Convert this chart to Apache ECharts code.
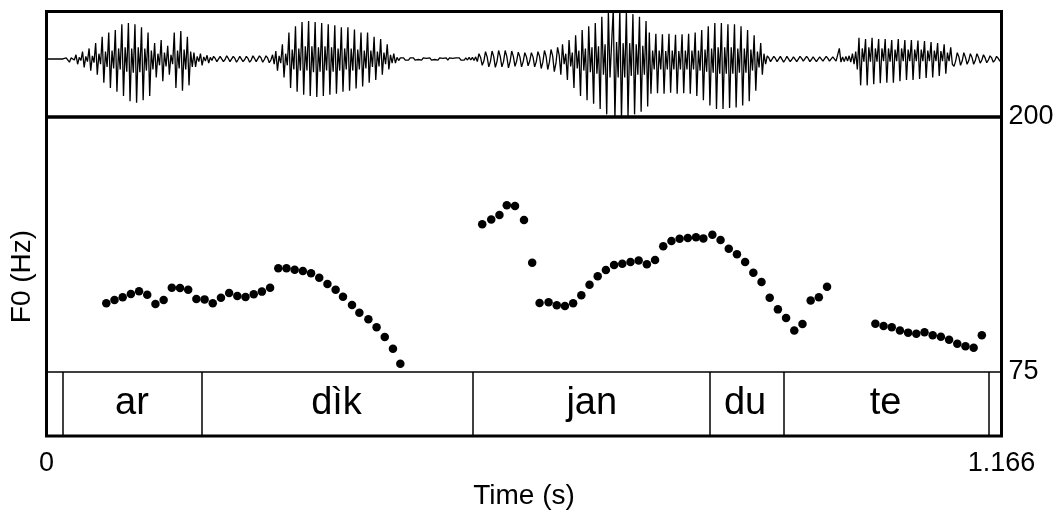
<!DOCTYPE html>
<html>
<head>
<meta charset="utf-8">
<script src="https://cdn.jsdelivr.net/npm/echarts@6/dist/echarts.min.js"></script>
<style>
  html, body { margin: 0; padding: 0; background: #fff; }
  #chart { width: 1064px; height: 516px; }
</style>
</head>
<body>
<div id="chart"></div>
<script>
// Time axis (s) and pitch range (Hz)
const timeRange = [0, 1.166];
const timeTickLabels = ['0', '1.166'];
const hzRange = [75, 200];
const hzTickLabels = [75, 200];

// Oscillogram, one value every waveStep seconds (arbitrary amplitude units)
const waveStep = 0.002;
const waveSamples = [
  0, 0, 0, 0, 0, 0, 0, 0, 0, 0, 0, 0,
  0.02, 0.05, -0.06, 0.02, 0.03, -0.02,
  0.08, -0.1, 0.03, -0.03, 0.14, -0.16, 0.05, -0.05, 0.2, -0.22, 0.06, -0.07, 0.3, -0.3, 0.1, -0.1,
  0.42, -0.45, 0.14, -0.15, 0.5, -0.55, 0.16, -0.18, 0.55, -0.62, 0.2, -0.2, 0.66, -0.7, 0.22, -0.24,
  0.68, -0.8, 0.2, -0.26, 0.66, -0.83, 0.22, -0.25, 0.6, -0.78, 0.2, -0.22, 0.5, -0.7, 0.16, -0.2,
  0.3, -0.35, 0.1, -0.12, 0.36, -0.42, 0.12, -0.14, 0.25, -0.3, 0.08, -0.1,
  0.5, -0.55, 0.16, -0.18, 0.53, -0.6, 0.18, -0.2, 0.42, -0.5, 0.14, -0.15,
  0.12, -0.15, 0.05, -0.05, 0.1, -0.12, 0.04, -0.04, 0.07, -0.08, 0.03, -0.03,
  0.05, 0.01, -0.05, -0.02, 0.05, 0.02, -0.05, -0.01, 0.06, 0.01, -0.05, -0.02, 0.05, 0.01, -0.06, -0.01,
  0.05, 0.02, -0.05, -0.01, 0.05, 0.01, -0.06, -0.02, 0.06, 0.01, -0.05, -0.02, 0.06, 0.02, -0.06, -0.01,
  0.06, 0.02, -0.07, -0.02, 0.08, -0.1,
  0.15, -0.22, 0.06, -0.08, 0.28, -0.35, 0.1, -0.12,
  0.5, -0.55, 0.18, -0.2, 0.62, -0.62, 0.2, -0.22, 0.7, -0.68, 0.24, -0.22, 0.72, -0.7, 0.24, -0.25,
  0.7, -0.72, 0.22, -0.24, 0.68, -0.7, 0.24, -0.22, 0.66, -0.68, 0.22, -0.24, 0.64, -0.66, 0.2, -0.22,
  0.6, -0.62, 0.2, -0.2, 0.6, -0.6, 0.2, -0.22, 0.56, -0.56, 0.18, -0.2, 0.5, -0.52, 0.16, -0.18,
  0.5, -0.45, 0.16, -0.15, 0.42, -0.4, 0.14, -0.14, 0.38, -0.3, 0.12, -0.1, 0.28, -0.2, 0.08, -0.08,
  0.1, -0.08, 0.03, -0.03,
  0.02, -0.01, 0.02, -0.02, 0.01, -0.02, 0.02, -0.01, 0.02, -0.02, 0.01, -0.01, 0.02, -0.02, 0.02, -0.01,
  0.01, -0.02, 0.02, -0.02, 0.01, -0.01, 0.02, -0.02, 0.02, -0.01, 0.01, -0.02, 0.02, -0.02, 0.02, -0.01,
  0.01, -0.02, 0.02, -0.01, 0.02, -0.02, 0.01, -0.02, 0.02, -0.02, 0.03, -0.02, 0.03, -0.03, 0.04, -0.05,
  0.1, 0.03, -0.12, -0.04, 0.14, 0.04, -0.15, -0.05, 0.15, 0.05, -0.16, -0.05, 0.16, 0.05, -0.15, -0.05,
  0.16, 0.05, -0.17, -0.05, 0.15, 0.05, -0.14, -0.04, 0.13, 0.04, -0.15, -0.05, 0.12, 0.04, -0.13, -0.04,
  0.12, 0.04, -0.15, -0.05, 0.14, 0.05, -0.18, -0.06, 0.16, 0.05, -0.2, -0.06, 0.18, 0.06, -0.24, -0.08,
  0.22, 0.07,
  -0.3, 0.28, -0.1, 0.1, -0.4, 0.36, -0.14, 0.12, -0.55, 0.45, -0.18, 0.16,
  -0.7, 0.55, -0.22, 0.2, -0.78, 0.62, -0.25, 0.22, -0.85, 0.68, -0.28, 0.24, -0.95, 0.8, -0.3, 0.28,
  -1.05, 0.9,
  -0.35, 0.3, 0.95, -1.15, 0.32, -0.35, 0.95, -1.15, 0.3, -0.35, 0.9, -1.1, 0.3, -0.32, 0.85, -1.05,
  0.28, -0.3, 0.8, -1.0, 0.25, -0.3, 0.72, -0.9,
  0.5, -0.66, 0.16, -0.2, 0.48, -0.65, 0.16, -0.2, 0.47, -0.66, 0.15, -0.2, 0.48, -0.64, 0.16, -0.2,
  0.46, -0.66, 0.15, -0.2, 0.47, -0.65, 0.16, -0.2, 0.48, -0.66, 0.16, -0.2, 0.5, -0.7, 0.16, -0.22,
  0.55, -0.78, 0.18, -0.24, 0.62, -0.88, 0.2, -0.26, 0.68, -0.95, 0.22, -0.28, 0.68, -0.95, 0.22, -0.28,
  0.66, -0.93, 0.22, -0.28, 0.66, -0.92, 0.2, -0.26, 0.62, -0.88, 0.2, -0.26, 0.55, -0.8, 0.18, -0.22,
  0.45, -0.6, 0.14, -0.16, 0.3, -0.3, 0.1, -0.1,
  0.06, 0.02, -0.05, -0.02, 0.05, 0.01, -0.05, -0.02, 0.05, 0.02, -0.06, -0.01, 0.05, 0.02, -0.05, -0.01,
  0.04, 0.02, -0.05, -0.02, 0.05, 0.01, -0.04, -0.02, 0.05, 0.01, -0.05, -0.01, 0.04, 0.02, -0.05, -0.02,
  0.04, 0.01, -0.04, -0.02, 0.05, 0.01, -0.04, -0.01, 0.04, 0.01, -0.04, -0.01,
  0.2, -0.06, 0.04, -0.05, 0.05, -0.04, 0.06, -0.06, 0.1, -0.1, 0.14, -0.2,
  0.4, -0.5, 0.2, -0.05, 0.38, -0.5, 0.22, -0.05, 0.4, -0.48, 0.2, -0.05, 0.38, -0.46, 0.2, -0.04,
  0.38, -0.45, 0.2, -0.05, 0.36, -0.45, 0.18, -0.04, 0.38, -0.42, 0.2, -0.04, 0.36, -0.4, 0.18, -0.04,
  0.36, -0.4, 0.18, -0.04, 0.35, -0.38, 0.18, -0.04, 0.34, -0.36, 0.16, -0.04, 0.32, -0.35, 0.16, -0.04,
  0.3, -0.32, 0.15, -0.04, 0.28, -0.28, 0.12, -0.04, 0.22, -0.1,
  -0.14, -0.04, 0.12, 0.04, -0.12, -0.04, 0.12, 0.03, -0.1, -0.03, 0.1, 0.03, -0.1, -0.03, 0.1, 0.03,
  -0.08, -0.02, 0.08, 0.02, -0.07, -0.02, 0.06, 0.02, -0.06, -0.02, 0.05, 0.01, -0.04, -0.01
];

// Pitch track: frame times (s) and F0 (Hz)
const f0Times = [
  0.073, 0.083, 0.093, 0.103, 0.113, 0.123, 0.133, 0.143, 0.153, 0.163, 0.173, 0.183, 0.193,
  0.203, 0.213, 0.223, 0.233, 0.243, 0.253, 0.263, 0.273, 0.283, 0.293, 0.303, 0.313, 0.323,
  0.333, 0.343, 0.353, 0.362, 0.373, 0.382, 0.393, 0.403, 0.413, 0.423, 0.432,
  0.532, 0.543, 0.553, 0.562, 0.572, 0.583, 0.593, 0.602, 0.613, 0.623, 0.633, 0.643, 0.653,
  0.663, 0.673, 0.683, 0.693, 0.703, 0.713, 0.723, 0.733, 0.743, 0.753, 0.763, 0.773, 0.783,
  0.793, 0.802, 0.813, 0.823, 0.833, 0.843, 0.853, 0.863, 0.873, 0.883, 0.893, 0.903, 0.913,
  0.923, 0.933, 0.943, 0.953,
  1.012, 1.022, 1.032, 1.042, 1.052, 1.062, 1.072, 1.082, 1.092, 1.102, 1.112, 1.122, 1.132, 1.142
];
const f0Hz = [
  108.7, 110.3, 111.6, 113.2, 114.6, 112.9, 108.3, 110.3, 116.3, 116.2, 115.3, 110.8, 110.6,
  108.7, 111.4, 113.7, 112.3, 111.8, 113.1, 114.4, 116.3, 125.8, 125.8, 125.1, 124.5, 123.4,
  121.2, 118.1, 115.3, 111.9, 107.8, 104.1, 100.8, 96.9, 92.2, 86.4, 79.1,
  147.4, 149.7, 152.0, 156.7, 156.4, 149.5, 128.6, 108.8, 109.2, 107.7, 107.4, 108.7, 112.6,
  117.8, 121.9, 125.0, 127.5, 128.1, 128.9, 129.6, 127.8, 129.9, 136.6, 139.2, 140.3, 140.7,
  141.0, 140.5, 142.3, 139.7, 135.4, 132.7, 128.9, 123.7, 119.1, 111.4, 105.7, 101.5, 95.4,
  98.5, 110.1, 111.6, 116.8,
  98.7, 97.5, 96.9, 95.4, 94.3, 93.8, 94.5, 93.0, 92.3, 90.8, 88.9, 87.6, 86.9, 93.0
];

// Word tier: interval boundaries (s) and labels
const tierBounds = [0.0226, 0.1862, 0.5220, 0.8095, 0.8962, 1.1526];
const tierLabels = ['ar', 'dìk', 'jan', 'du', 'te'];

const FONT = '"Liberation Sans", Arial, Helvetica, sans-serif';
const INK = '#000';

const waveData = waveSamples.map((v, i) => [i * waveStep, v]);
const f0Data = f0Times.map((t, i) => [t, f0Hz[i]]);
const tierData = tierLabels.map((name, i) => ({
  name: name,
  value: [(tierBounds[i] + tierBounds[i + 1]) / 2, 0.5]
}));

const L = 46.5, W = 955;
const hiddenX = (gi) => ({
  type: 'value', gridIndex: gi, min: timeRange[0], max: timeRange[1],
  show: false
});

const chart = echarts.init(document.getElementById('chart'), null, { renderer: 'canvas' });
chart.setOption({
  animation: false,
  backgroundColor: '#fff',
  textStyle: { fontFamily: FONT, color: INK },
  grid: [
    // oscillogram
    { left: L, top: 11.5, width: W, height: 105.5, show: true, borderColor: INK, borderWidth: 3,
      backgroundColor: 'transparent', outerBoundsMode: 'none' },
    // pitch panel
    { left: L, top: 117, width: W, height: 255, show: false, outerBoundsMode: 'none' },
    // word tier
    { left: L, top: 372, width: W, height: 64, show: true, borderColor: INK, borderWidth: 1.5,
      backgroundColor: 'transparent', outerBoundsMode: 'none' },
    // outer frame around pitch + tier
    { left: L, top: 117, width: W, height: 319, show: true, borderColor: INK, borderWidth: 3,
      backgroundColor: 'transparent', outerBoundsMode: 'none' }
  ],
  xAxis: [
    hiddenX(0),
    hiddenX(1),
    hiddenX(2),
    {
      type: 'value', gridIndex: 3, min: timeRange[0], max: timeRange[1], interval: timeRange[1],
      axisLine: { show: false }, axisTick: { show: false }, splitLine: { show: false },
      axisLabel: {
        show: true, margin: 14, fontSize: 27, color: INK, fontFamily: FONT,
        showMinLabel: true, showMaxLabel: true,
        formatter: (v) => (v === timeRange[0] ? timeTickLabels[0] : timeTickLabels[1])
      },
      name: 'Time (s)', nameLocation: 'middle', nameGap: 44,
      nameTextStyle: { fontSize: 28, color: INK, fontFamily: FONT }
    }
  ],
  yAxis: [
    { type: 'value', gridIndex: 0, min: -1.1, max: 0.9, show: false },
    {
      type: 'value', gridIndex: 1, position: 'right', min: hzRange[0], max: hzRange[1], interval: 25,
      axisLine: { show: false }, axisTick: { show: false }, splitLine: { show: false },
      axisLabel: {
        show: true, margin: 7, fontSize: 27, color: INK, fontFamily: FONT,
        showMinLabel: true, showMaxLabel: true,
        formatter: (v) => (hzTickLabels.indexOf(v) >= 0 ? String(v) : '')
      }
    },
    { type: 'value', gridIndex: 2, min: 0, max: 1, show: false },
    {
      type: 'value', gridIndex: 3, min: 0, max: 1,
      axisLine: { show: false }, axisTick: { show: false }, splitLine: { show: false },
      axisLabel: { show: false },
      name: 'F0 (Hz)', nameLocation: 'middle', nameRotate: 90, nameGap: 10,
      nameTextStyle: { fontSize: 28, color: INK, fontFamily: FONT }
    }
  ],
  series: [
    {
      name: 'waveform', type: 'line', xAxisIndex: 0, yAxisIndex: 0,
      data: waveData, showSymbol: false, symbol: 'none', clip: true,
      lineStyle: { color: INK, width: 1.3 }, silent: true
    },
    {
      name: 'F0', type: 'scatter', xAxisIndex: 1, yAxisIndex: 1,
      data: f0Data, symbol: 'circle', symbolSize: 8.5,
      itemStyle: { color: INK, opacity: 1 }, silent: true
    },
    {
      name: 'words', type: 'scatter', xAxisIndex: 2, yAxisIndex: 2,
      data: tierData, symbolSize: 0, silent: true,
      itemStyle: { color: INK, opacity: 1 },
      label: {
        show: true, position: 'inside', formatter: '{b}',
        fontSize: 38, color: INK, fontFamily: FONT
      },
      markLine: {
        silent: true, symbol: 'none',
        label: { show: false },
        lineStyle: { color: INK, width: 1.5, type: 'solid', opacity: 1 },
        data: tierBounds.map((t) => ({ xAxis: t }))
      }
    }
  ]
});
</script>
</body>
</html>
